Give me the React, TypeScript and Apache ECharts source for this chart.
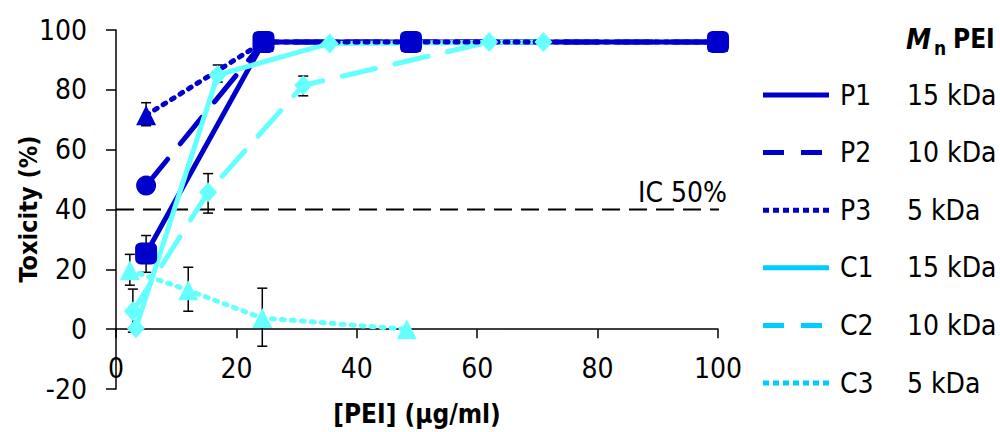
import React, { useEffect, useRef } from "react";
import * as echarts from "echarts";

const FONT = "'DejaVu Sans Condensed', 'DejaVu Sans', sans-serif";
const DARK = "#0000CC";
const CYAN = "#66FFFF";
const CYAN_LEGEND = "#00CCFF";

// data
const pX = [5, 24.5, 49, 100];
const p1Y = [25.3, 96, 96, 96];
const p2Y = [48, 96, 96, 96];
const p3Y = [71.5, 96, 96, 96];
const c1X = [3.3, 16.9, 35.5, 71];
const c1Y = [0.3, 85, 95.5, 96];
const c2X = [2.8, 15.3, 31.1, 62];
const c2Y = [6, 45.8, 81.5, 96];
const c3X = [2.3, 12, 24.3, 48.3];
const c3Y = [19.7, 13, 3.7, 0];
// error bars: [x, low, high]
const errBars = [
  [5, 19, 31.3],
  [5, 68, 75.7],
  [16.9, 82.6, 88.3],
  [2.8, -1, 13.4],
  [15.3, 38.8, 52],
  [31.1, 78, 84.6],
  [2.3, 14.7, 25],
  [12, 6, 20.7],
  [24.3, -5.7, 13.7],
];
const ic50X = [0, 101.5];
const ic50Y = [40, 40];
const seriesNames = ["P1", "P2", "P3", "C1", "C2", "C3"];
const molWeights = ["15 kDa", "10 kDa", "5 kDa", "15 kDa", "10 kDa", "5 kDa"];
const xTitle = "[PEI] (µg/ml)";
const yTitle = "Toxicity (%)";
const ic50Label = "IC 50%";

const zip = (xs: number[], ys: number[]) => xs.map((x, i) => [x, ys[i]]);

const dashSolid: any = "solid";
const dashDashed: any = [34, 20];
const dashDotted: any = [3, 7];

function lineSeries(name: string, xs: number[], ys: number[], color: string, type: any, symbol: string, size: any) {
  return {
    name,
    type: "line",
    data: zip(xs, ys),
    symbol,
    symbolSize: size,
    showSymbol: true,
    itemStyle: { color, opacity: 1 },
    lineStyle: { color, width: 5, type, cap: "round" },
    emphasis: { disabled: true },
    silent: true,
  };
}

export default function App() {
  const ref = useRef<HTMLDivElement>(null);
  useEffect(() => {
    const chart = echarts.init(ref.current!, null, { renderer: "svg" });
    const legendStyles = [
      { color: DARK, dash: null },
      { color: DARK, dash: [21, 17] },
      { color: DARK, dash: [6, 4] },
      { color: CYAN_LEGEND, dash: null },
      { color: CYAN_LEGEND, dash: [21, 17] },
      { color: CYAN_LEGEND, dash: [6, 4] },
    ];
    const legendEls: any[] = [];
    seriesNames.forEach((n, i) => {
      const y = 95 + i * 57.6;
      legendEls.push({
        type: "line",
        shape: { x1: 763, y1: y, x2: 829, y2: y },
        style: { stroke: legendStyles[i].color, lineWidth: 5, lineDash: legendStyles[i].dash },
      });
      legendEls.push({
        type: "text",
        x: 840,
        y,
        style: { text: n, fontSize: 28, fontFamily: FONT, fill: "#000", align: "left", verticalAlign: "middle" },
      });
      legendEls.push({
        type: "text",
        x: 907,
        y,
        style: { text: molWeights[i], fontSize: 28, fontFamily: FONT, fill: "#000", align: "left", verticalAlign: "middle" },
      });
    });

    const option: any = {
      animation: false,
      backgroundColor: "#fff",
      grid: { left: 116, right: 282, top: 30, bottom: 43, containLabel: false, outerBoundsMode: "none" },
      xAxis: {
        type: "value",
        min: 0,
        max: 100,
        interval: 20,
        axisLine: { onZero: true, lineStyle: { color: "#000", width: 1.5 } },
        axisTick: { show: true, length: 9, lineStyle: { color: "#000", width: 1.5 } },
        axisLabel: { fontSize: 28, fontFamily: FONT, color: "#000", margin: -35 },
        splitLine: { show: false },
      },
      yAxis: {
        type: "value",
        min: -20,
        max: 100,
        interval: 20,
        axisLine: { show: true, lineStyle: { color: "#000", width: 1.5 } },
        axisTick: { show: true, length: 10, lineStyle: { color: "#000", width: 1.5 } },
        axisLabel: { fontSize: 28, fontFamily: FONT, color: "#000", margin: 29 },
        splitLine: { show: false },
      },
      series: [
        {
          name: "IC50",
          type: "line",
          data: zip(ic50X, ic50Y),
          symbol: "none",
          clip: false,
          silent: true,
          lineStyle: { color: "#000", width: 2, type: [18, 9] },
        },
        {
          name: "err",
          type: "custom",
          data: errBars,
          silent: true,
          renderItem: (params: any, api: any) => {
            const x = api.value(0);
            const lo = api.coord([x, api.value(1)]);
            const hi = api.coord([x, api.value(2)]);
            const w = 5;
            const st = { stroke: "#000", lineWidth: 1.5 };
            return {
              type: "group",
              children: [
                { type: "line", shape: { x1: lo[0], y1: lo[1], x2: hi[0], y2: hi[1] }, style: st },
                { type: "line", shape: { x1: lo[0] - w, y1: lo[1], x2: lo[0] + w, y2: lo[1] }, style: st },
                { type: "line", shape: { x1: hi[0] - w, y1: hi[1], x2: hi[0] + w, y2: hi[1] }, style: st },
              ],
            };
          },
        },
        lineSeries(seriesNames[0], pX, p1Y, DARK, dashSolid, "roundRect", 22),
        lineSeries(seriesNames[1], pX, p2Y, DARK, dashDashed, "circle", 20),
        lineSeries(seriesNames[3], c1X, c1Y, CYAN, dashSolid, "diamond", [18, 20]),
        lineSeries(seriesNames[4], c2X, c2Y, CYAN, dashDashed, "diamond", [18, 20]),
        lineSeries(seriesNames[5], c3X, c3Y, CYAN, dashDotted, "triangle", 20),
        lineSeries(seriesNames[2], pX, p3Y, DARK, dashDotted, "triangle", 20),
      ],
      graphic: [
        {
          type: "text",
          x: 417,
          y: 414,
          style: { text: xTitle, fontSize: 26, fontWeight: "bold", fontFamily: FONT, fill: "#000", align: "center", verticalAlign: "middle" },
        },
        {
          type: "text",
          x: 28,
          y: 209,
          rotation: Math.PI / 2,
          style: { text: yTitle, fontSize: 25, fontWeight: "bold", fontFamily: FONT, fill: "#000", align: "center", verticalAlign: "middle" },
        },
        {
          type: "text",
          x: 727,
          y: 192,
          style: { text: ic50Label, fontSize: 28, fontFamily: FONT, fill: "#000", align: "right", verticalAlign: "middle" },
        },
        {
          type: "text",
          x: 906,
          y: 39,
          style: { text: "M", fontSize: 28, fontWeight: "bold", fontStyle: "italic", fontFamily: FONT, fill: "#000", align: "left", verticalAlign: "middle" },
        },
        {
          type: "text",
          x: 934,
          y: 48,
          style: { text: "n", fontSize: 19, fontWeight: "bold", fontFamily: FONT, fill: "#000", align: "left", verticalAlign: "middle" },
        },
        {
          type: "text",
          x: 953,
          y: 39,
          style: { text: "PEI", fontSize: 26, fontWeight: "bold", fontFamily: FONT, fill: "#000", align: "left", verticalAlign: "middle" },
        },
        ...legendEls,
      ],
    };
    chart.setOption(option);
    return () => chart.dispose();
  }, []);
  return <div ref={ref} style={{ position: "absolute", left: 0, top: 0, width: 1000, height: 432 }} />;
}
